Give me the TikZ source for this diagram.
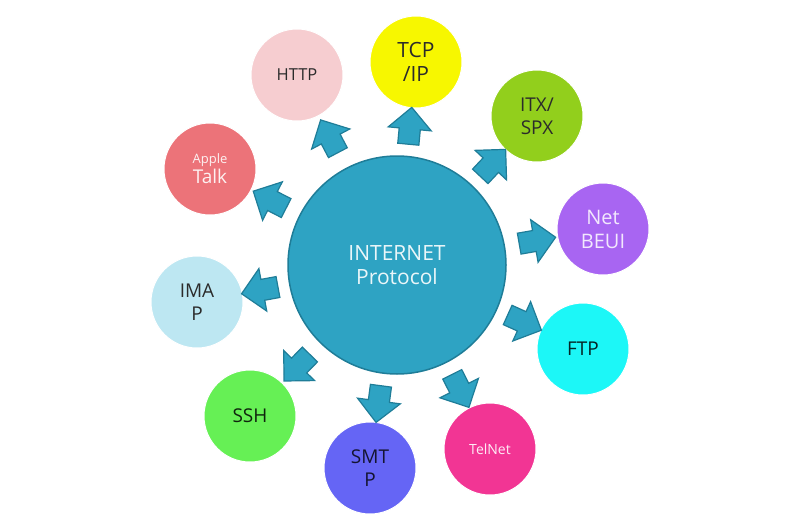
\documentclass[tikz,border=0pt]{standalone}
\usepackage{fontspec}
\setmainfont{Open Sans}
\usetikzlibrary{shapes.arrows}
\definecolor{hubfill}{HTML}{2EA3C3}
\definecolor{hubline}{HTML}{1F7D98}
\definecolor{httpc}{HTML}{F6CDD0}
\definecolor{tcpc}{HTML}{F7F700}
\definecolor{itxc}{HTML}{92CF1C}
\definecolor{netc}{HTML}{A865F2}
\definecolor{ftpc}{HTML}{1CF7F7}
\definecolor{telc}{HTML}{F23594}
\definecolor{smtpc}{HTML}{6565F5}
\definecolor{sshc}{HTML}{66F055}
\definecolor{imapc}{HTML}{BDE7F2}
\definecolor{applec}{HTML}{EC7379}
\definecolor{darktext}{HTML}{2B2B2B}
\tikzset{
  proto/.style={circle, draw=white, line width=1pt, minimum size=92pt, inner sep=0pt, align=center, text=darktext, font=\fontsize{19}{23}\selectfont},
  hub/.style={circle, fill=hubfill, draw=hubline, line width=1.5pt, minimum size=218pt, align=center, text=white!90!hubfill, font=\fontsize{21}{24}\selectfont},
  push/.style={single arrow, fill=hubfill, draw=hubline, line width=1.2pt, minimum height=37pt, inner xsep=0pt, inner ysep=10pt, single arrow head extend=11pt, pos=0.52, sloped, allow upside down},
}

\begin{document}
\begin{tikzpicture}[x=1pt, y=-1pt]
    \useasboundingbox (0,0) rectangle (800,522);
    \node[hub] (hub) at (397,265) {INTERNET\\Protocol};
    \node[proto, fill=httpc, font=\fontsize{16.5}{20}\selectfont] (http) at (297,75) {HTTP};
    \node[proto, fill=tcpc, font=\fontsize{21}{24}\selectfont] (tcpip) at (416,62) {TCP\\/IP};
    \node[proto, fill=itxc] (itx) at (537,116) {ITX/\\SPX};
    \node[proto, fill=netc, text=white!85!netc, font=\fontsize{20}{24}\selectfont] (netbeui) at (603,229) {Net\\BEUI};
    \node[proto, fill=ftpc, text=black!85!ftpc] (ftp) at (583,349) {FTP};
    \node[proto, fill=telc, text=white!90!telc, font=\fontsize{14}{17}\selectfont] (telnet) at (490,449) {TelNet};
    \node[proto, fill=smtpc, text=black!80!smtpc] (smtp) at (370,468) {SMT\\P};
    \node[proto, fill=sshc, text=black!85!sshc] (ssh) at (250,416) {SSH};
    \node[proto, fill=imapc] (imap) at (197,302) {IMA\\P};
    \node[proto, fill=applec, text=white!90!applec, font=\fontsize{19}{20}\selectfont] (apple) at (210,169) {{\fontsize{13}{15}\selectfont Apple}\\Talk};
    % block arrows from the hub out to each protocol
    \path (hub) -- (http) node[push] {};
    \path (hub) -- (tcpip) node[push] {};
    \path (hub) -- (itx) node[push] {};
    \path (hub) -- (netbeui) node[push] {};
    \path (hub) -- (ftp) node[push] {};
    \path (hub) -- (telnet) node[push] {};
    \path (hub) -- (smtp) node[push] {};
    \path (hub) -- (ssh) node[push] {};
    \path (hub) -- (imap) node[push] {};
    \path (hub) -- (apple) node[push] {};
  \end{tikzpicture}
\end{document}
